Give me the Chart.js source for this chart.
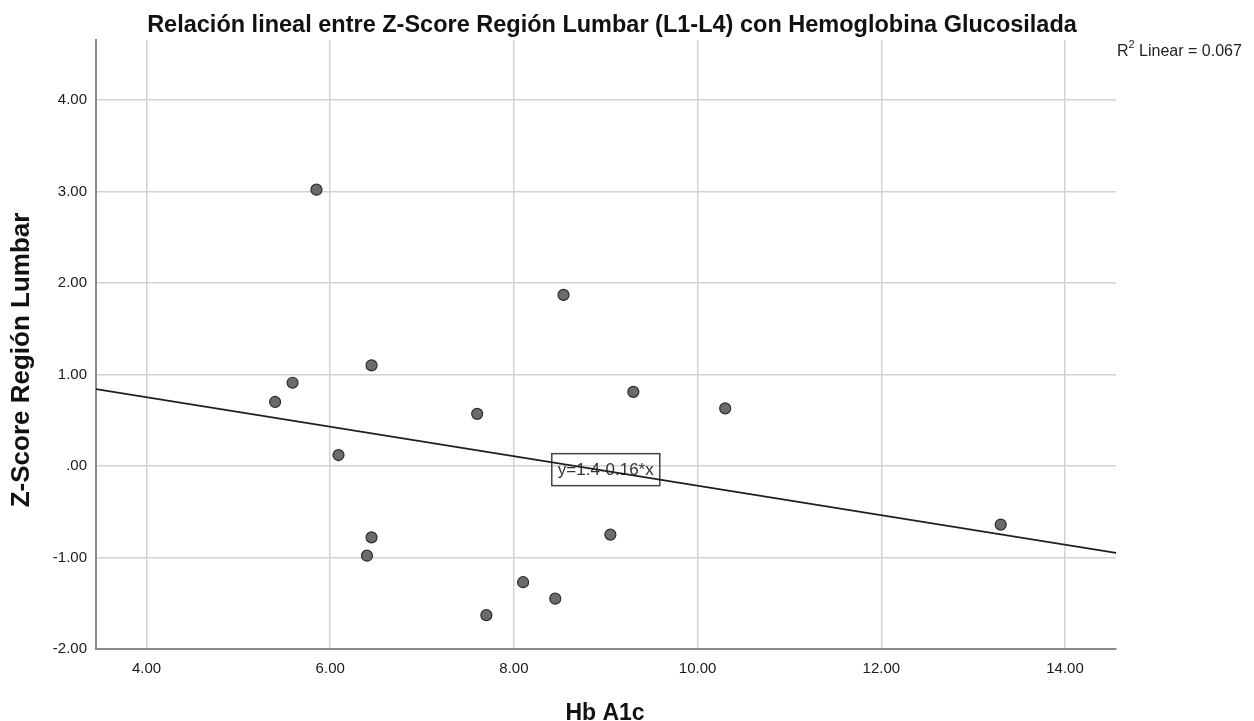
<!DOCTYPE html>
<html>
<head>
<meta charset="utf-8">
<script src="https://cdn.jsdelivr.net/npm/chart.js@4.4.1/dist/chart.umd.min.js"></script>
<style>
  body { margin: 0; background: #fff; }
  canvas { display: block; }
</style>
</head>
<body>
<canvas id="scatterChart" width="1254" height="721"></canvas>
<script>
// Valori
const hbA1c = [5.85, 8.54, 6.45, 5.59, 5.40, 7.60, 9.30, 10.30, 6.09, 6.45, 6.40, 9.05, 13.30, 8.10, 8.45, 7.70];
const zScore = [3.02, 1.87, 1.10, 0.91, 0.70, 0.57, 0.81, 0.63, 0.12, -0.78, -0.98, -0.75, -0.64, -1.27, -1.45, -1.63];

// Retta di regressione (estremi)
const fitX = [3.45, 14.555];
const fitY = [0.84, -0.95];

const xTicks = [4, 6, 8, 10, 12, 14];
const xTickLabels = ['4.00', '6.00', '8.00', '10.00', '12.00', '14.00'];
const yTicks = [-2, -1, 0, 1, 2, 3, 4];
const yTickLabels = ['-2.00', '-1.00', '.00', '1.00', '2.00', '3.00', '4.00'];

const titleText = 'Relación lineal entre Z-Score Región Lumbar (L1-L4) con Hemoglobina Glucosilada';
const xTitle = 'Hb A1c';
const yTitle = 'Z-Score Región Lumbar';
const equationText = 'y=1.4-0.16*x';
const equationPos = [9.0, -0.04];
const FONT = '"Liberation Sans", Arial, sans-serif';

// Testi disegnati a mano: titolo, titoli assi, R², riquadro equazione
const textPlugin = {
    id: 'spssTexts',
    beforeDatasetsDraw(chart) {
        const ctx = chart.ctx;
        const cx = chart.scales.x.getPixelForValue(equationPos[0]);
        const cy = chart.scales.y.getPixelForValue(equationPos[1]);
        ctx.save();
        ctx.font = '17px ' + FONT;
        const w = 108;
        const h = 32;
        ctx.strokeStyle = '#444';
        ctx.lineWidth = 1.5;
        ctx.strokeRect(cx - w / 2, cy - h / 2, w, h);
        ctx.fillStyle = '#333';
        ctx.textAlign = 'center';
        ctx.textBaseline = 'middle';
        ctx.fillText(equationText, cx, cy + 1);
        ctx.restore();
    },
    afterDraw(chart) {
        const ctx = chart.ctx;
        const area = chart.chartArea;
        ctx.save();
        ctx.fillStyle = '#111';
        ctx.textBaseline = 'alphabetic';

        ctx.font = 'bold 23.5px ' + FONT;
        ctx.textAlign = 'center';
        ctx.fillText(titleText, 612, 32);

        ctx.font = 'bold 23px ' + FONT;
        ctx.fillText(xTitle, 605, 720);

        ctx.save();
        ctx.translate(29, 360);
        ctx.rotate(-Math.PI / 2);
        ctx.font = 'bold 26px ' + FONT;
        ctx.fillText(yTitle, 0, 0);
        ctx.restore();

        // R² Linear
        ctx.textAlign = 'left';
        ctx.fillStyle = '#222';
        ctx.font = '16px ' + FONT;
        let x = area.right + 1;
        ctx.fillText('R', x, 56);
        x += ctx.measureText('R').width;
        ctx.font = '11px ' + FONT;
        ctx.fillText('2', x, 48);
        x += ctx.measureText('2').width;
        ctx.font = '16px ' + FONT;
        ctx.fillText(' Linear = 0.067', x, 56);
        ctx.restore();
    }
};

const points = hbA1c.map((v, i) => ({ x: v, y: zScore[i] }));
const fitLine = fitX.map((v, i) => ({ x: v, y: fitY[i] }));

new Chart(document.getElementById('scatterChart'), {
    type: 'scatter',
    data: {
        datasets: [
            {
                label: 'Lineal',
                data: fitLine,
                showLine: true,
                borderColor: '#1e1e1e',
                borderWidth: 1.6,
                pointRadius: 0,
                order: 0
            },
            {
                label: 'Z-Score',
                data: points,
                backgroundColor: '#6b6b6b',
                borderColor: '#2e2e2e',
                borderWidth: 1.2,
                pointRadius: 5.5,
                order: 1
            }
        ]
    },
    options: {
        responsive: false,
        animation: false,
        events: [],
        layout: { padding: { top: 40, right: 138, left: 0, bottom: 0 } },
        plugins: {
            legend: { display: false },
            tooltip: { enabled: false }
        },
        scales: {
            x: {
                type: 'linear',
                min: 3.45,
                max: 14.555,
                afterBuildTicks: s => { s.ticks = xTicks.map(v => ({ value: v })); },
                afterFit: s => { s.height = 72; },
                ticks: {
                    padding: 11,
                    color: '#1a1a1a',
                    font: { family: FONT, size: 15 },
                    callback: (v, i) => xTickLabels[i]
                },
                grid: { color: '#d2d2d2', lineWidth: 1.5, drawTicks: false },
                border: { color: '#8a8a8a', width: 2 }
            },
            y: {
                type: 'linear',
                min: -2,
                max: 4.656,
                afterBuildTicks: s => { s.ticks = yTicks.map(v => ({ value: v })); },
                afterFit: s => { s.width = 96; },
                ticks: {
                    padding: 9,
                    color: '#1a1a1a',
                    font: { family: FONT, size: 15 },
                    callback: (v, i) => yTickLabels[i]
                },
                grid: { color: '#d2d2d2', lineWidth: 1.5, drawTicks: false },
                border: { color: '#8a8a8a', width: 2 }
            }
        }
    },
    plugins: [textPlugin]
});
</script>
</body>
</html>
